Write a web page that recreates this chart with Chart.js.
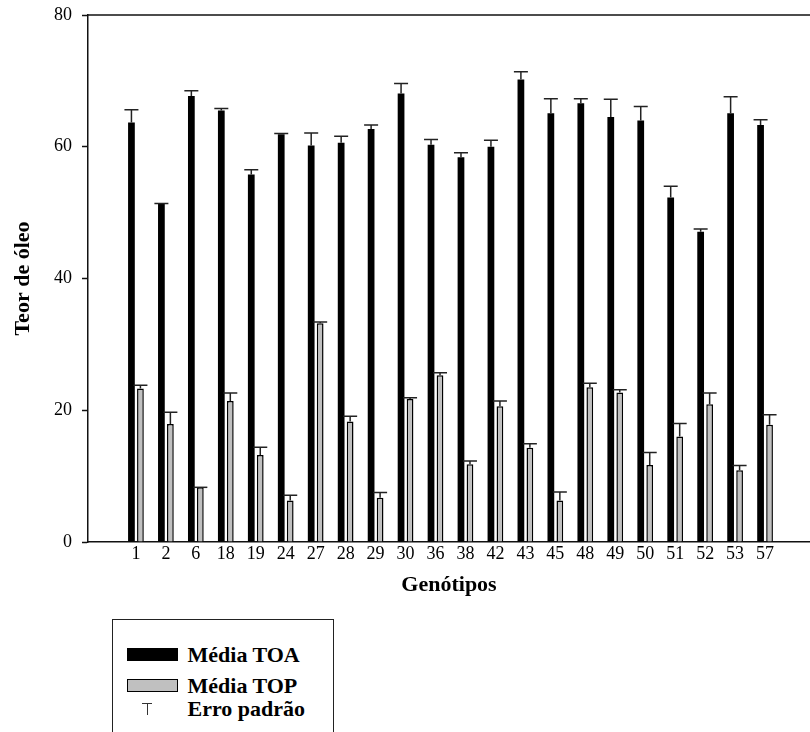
<!DOCTYPE html>
<html>
<head>
<meta charset="utf-8">
<script src="https://cdn.jsdelivr.net/npm/chart.js@4.4.0/dist/chart.umd.min.js"></script>
<style>
  html, body { margin: 0; padding: 0; background: #fff; overflow: hidden; }
  #wrap { position: relative; width: 810px; height: 732px; }
  #chart { position: absolute; left: 0; top: 0; }
  .legend {
    position: absolute; left: 112px; top: 619px; width: 222px; height: 140px;
    border: 1.5px solid #222; box-sizing: border-box;
    font: bold 22px "Liberation Serif", "Times New Roman", serif; color: #000;
  }
  .legend div { position: absolute; }
  .sw { left: 13.5px; width: 51px; height: 13px; box-sizing: border-box; }
  .txt { left: 74.5px; line-height: 22px; white-space: nowrap; }
</style>
</head>
<body>
<div id="wrap">
  <canvas id="chart" width="810" height="600"></canvas>
  <div class="legend">
    <div class="sw" style="top:27.5px; background:#000;"></div>
    <div class="txt" style="top:24px;">Média TOA</div>
    <div class="sw" style="top:59px; background:#c0c0c0; border:1.5px solid #000;"></div>
    <div class="txt" style="top:55px;">Média TOP</div>
    <div style="left:29px; top:83px; width:10px; height:1px; background:#333;"></div>
    <div style="left:33.5px; top:83px; width:1px; height:12px; background:#333;"></div>
    <div class="txt" style="top:77.5px;">Erro padrão</div>
  </div>
</div>
<script>
// Genotypes and oil content (teor de óleo)
const genotypes = ["1", "2", "6", "18", "19", "24", "27", "28", "29", "30", "36",
                   "38", "42", "43", "45", "48", "49", "50", "51", "52", "53", "57"];

const mediaTOA = [63.7, 51.3, 67.7, 65.5, 55.8, 61.9, 60.2, 60.6, 62.7, 68.1, 60.3,
                  58.4, 60.0, 70.2, 65.1, 66.6, 64.5, 64.0, 52.3, 47.1, 65.1, 63.3];
const erroTOA  = [1.9, 0.1, 0.8, 0.3, 0.7, 0.1, 1.9, 1.0, 0.6, 1.5, 0.8,
                  0.7, 1.0, 1.2, 2.2, 0.7, 2.7, 2.1, 1.7, 0.4, 2.5, 0.8];

const mediaTOP = [23.3, 17.9, 8.3, 21.4, 13.2, 6.3, 33.2, 18.3, 6.7, 21.7, 25.3,
                  11.8, 20.6, 14.3, 6.3, 23.5, 22.7, 11.7, 16.0, 20.9, 10.9, 17.8];
const erroTOP  = [0.5, 1.8, 0.0, 1.2, 1.2, 0.8, 0.2, 0.8, 0.8, 0.2, 0.4,
                  0.5, 0.8, 0.6, 1.3, 0.6, 0.4, 1.9, 2.0, 1.7, 0.7, 1.5];

const yTicks = [0, 20, 40, 60, 80];

const SERIF = "'Liberation Serif', 'Times New Roman', serif";
const INK = "#111";

// one-sided (upward) error bars + top frame line
const errorBars = {
  id: "errorBars",
  afterDatasetsDraw(chart) {
    const ctx = chart.ctx;
    const y = chart.scales.y;
    ctx.save();
    ctx.strokeStyle = "#222";
    ctx.lineWidth = 1.5;
    chart.data.datasets.forEach((ds, di) => {
      const meta = chart.getDatasetMeta(di);
      meta.data.forEach((bar, i) => {
        const top = y.getPixelForValue(ds.data[i].y + ds.errors[i]);
        ctx.beginPath();
        ctx.moveTo(bar.x, bar.y);
        ctx.lineTo(bar.x, top);
        ctx.moveTo(bar.x - 7, top);
        ctx.lineTo(bar.x + 7, top);
        ctx.stroke();
      });
    });
    const a = chart.chartArea;
    ctx.strokeStyle = INK;
    ctx.beginPath();
    ctx.moveTo(a.left, a.top);
    ctx.lineTo(a.right, a.top);
    ctx.stroke();
    ctx.restore();
  }
};

new Chart(document.getElementById("chart"), {
  type: "bar",
  data: {
    datasets: [
      {
        label: "Média TOA",
        data: mediaTOA.map((v, i) => ({ x: i, y: v })),
        errors: erroTOA,
        backgroundColor: "#000",
        borderWidth: 0,
        categoryPercentage: 0.6,
        barPercentage: 0.75
      },
      {
        label: "Média TOP",
        data: mediaTOP.map((v, i) => ({ x: i, y: v })),
        errors: erroTOP,
        backgroundColor: "#c0c0c0",
        borderColor: "#000",
        borderWidth: 1.5,
        categoryPercentage: 0.6,
        barPercentage: 0.75
      }
    ]
  },
  options: {
    responsive: false,
    animation: false,
    layout: { padding: { top: 15, right: 0, bottom: 0, left: 0 } },
    plugins: {
      legend: { display: false },
      tooltip: { enabled: false }
    },
    scales: {
      x: {
        type: "linear",
        offset: false,
        min: -1.6,
        max: 22.5,
        afterBuildTicks: axis => { axis.ticks = genotypes.map((g, i) => ({ value: i })); },
        afterFit: s => { s.height = 58; },
        grid: { display: false },
        border: { display: true, color: INK, width: 1.5 },
        ticks: {
          autoSkip: false,
          maxRotation: 0,
          padding: -7,
          color: "#000",
          font: { family: SERIF, size: 18 },
          callback: v => genotypes[v]
        },
        title: {
          display: true,
          text: "Genótipos",
          color: "#000",
          font: { family: SERIF, size: 22, weight: "bold" },
          padding: { top: 0, bottom: 1 }
        }
      },
      y: {
        min: 0,
        max: 80,
        afterBuildTicks: axis => { axis.ticks = yTicks.map(v => ({ value: v })); },
        afterFit: s => { s.width = 88; s.paddingTop = 0; },
        grid: { drawOnChartArea: false, tickLength: 6, tickColor: INK, tickWidth: 1.5 },
        border: { display: true, color: INK, width: 1.5 },
        ticks: {
          padding: 10,
          color: "#000",
          font: { family: SERIF, size: 18 }
        },
        title: {
          display: true,
          text: "Teor de óleo",
          color: "#000",
          font: { family: SERIF, size: 22, weight: "bold" },
          padding: { top: 10, bottom: 0 }
        }
      }
    }
  },
  plugins: [errorBars]
});
</script>
</body>
</html>
